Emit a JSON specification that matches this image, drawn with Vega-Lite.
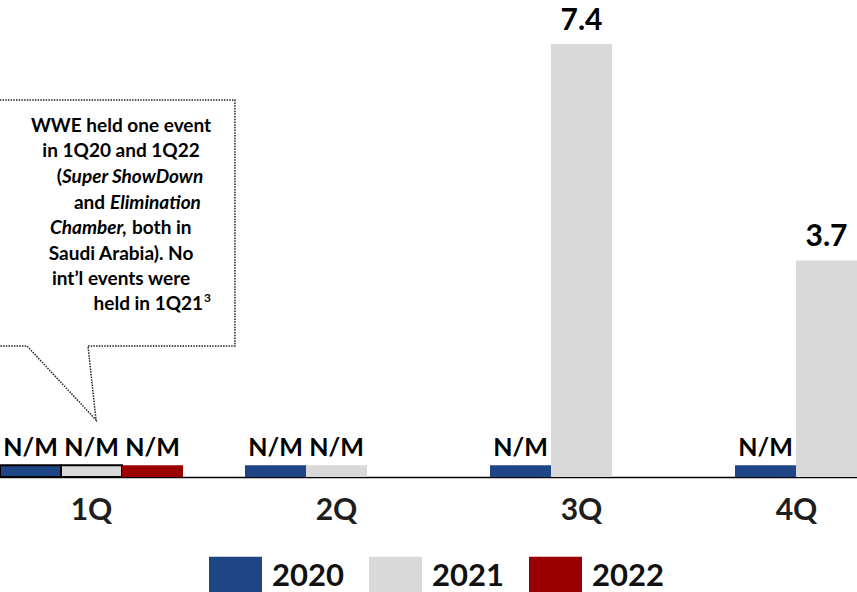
{
  "$schema": "https://vega.github.io/schema/vega-lite/v6.json",
  "width": 857,
  "height": 477,
  "autosize": {"type": "none"},
  "padding": {"top": 0, "left": 0, "right": 0, "bottom": 115},
  "background": "white",
  "config": {"view": {"stroke": null}, "font": "Lato"},
  "layer": [
    {
      "data": {"values": [
        {"quarter": "1Q", "year": "2020", "value": 0.2, "label": "N/M"},
        {"quarter": "1Q", "year": "2021", "value": 0.2, "label": "N/M"},
        {"quarter": "1Q", "year": "2022", "value": 0.2, "label": "N/M"},
        {"quarter": "2Q", "year": "2020", "value": 0.2, "label": "N/M"},
        {"quarter": "2Q", "year": "2021", "value": 0.2, "label": "N/M"},
        {"quarter": "3Q", "year": "2020", "value": 0.2, "label": "N/M"},
        {"quarter": "3Q", "year": "2021", "value": 7.4, "label": "7.4"},
        {"quarter": "4Q", "year": "2020", "value": 0.2, "label": "N/M"},
        {"quarter": "4Q", "year": "2021", "value": 3.7, "label": "3.7"}
      ]},
      "encoding": {
        "x": {
          "field": "quarter", "type": "nominal", "sort": ["1Q", "2Q", "3Q", "4Q"],
          "scale": {"type": "band", "domain": ["1Q", "2Q", "3Q", "4Q"], "range": [0, 918], "paddingInner": 0.253, "paddingOuter": 0},
          "axis": {
            "title": null, "ticks": false, "domainColor": "#000", "domainWidth": 1.5,
            "labelFontSize": 30, "labelFont": "Lato", "labelFontWeight": "bold", "labelColor": "#1e1e1e",
            "labelPadding": 18, "labelAngle": 0,
            "labelOffset": {"expr": "datum.value === '4Q' ? -30 : 0"}
          }
        },
        "xOffset": {"field": "year", "type": "nominal", "scale": {"domain": ["2020", "2021", "2022"], "paddingInner": 0, "paddingOuter": 0}},
        "y": {"field": "value", "type": "quantitative", "scale": {"domain": [0, 8.15], "nice": false, "zero": true}, "axis": null}
      },
      "layer": [
        {
          "mark": {"type": "bar", "stroke": "#000"},
          "encoding": {
            "color": {
              "field": "year", "type": "nominal",
              "scale": {"domain": ["2020", "2021", "2022"], "range": ["#1E4687", "#D9D9D9", "#9B0000"]},
              "legend": {
                "orient": "none", "legendX": 209, "legendY": 550, "direction": "horizontal", "title": null,
                "symbolType": "M-1,-0.755H1V0.755H-1Z", "symbolSize": 2809, "symbolStrokeWidth": 0, "symbolOpacity": 1,
                "labelFontSize": 31, "labelFont": "Lato", "labelFontWeight": "bold", "labelColor": "#111",
                "columnPadding": 25, "labelOffset": 10
              }
            },
            "strokeWidth": {"condition": {"test": "datum.quarter === '1Q' && datum.year !== '2022'", "value": 2}, "value": 0}
          }
        },
        {
          "transform": [{"filter": "datum.label === 'N/M'"}],
          "mark": {"type": "text", "baseline": "alphabetic", "dy": -9, "fontSize": 25, "fontWeight": "bold", "font": "Lato", "color": "#000"},
          "encoding": {"text": {"field": "label"}}
        },
        {
          "transform": [{"filter": "datum.label !== 'N/M'"}],
          "mark": {"type": "text", "baseline": "alphabetic", "dy": -14, "fontSize": 30, "fontWeight": "bold", "font": "Lato", "color": "#000"},
          "encoding": {"text": {"field": "label"}}
        }
      ]
    },
    {
      "encoding": {
        "x": {"field": "ax", "type": "quantitative", "scale": {"domain": [0, 4], "range": [0, 980], "nice": false, "zero": false}, "axis": null},
        "y": {"field": "ay", "type": "quantitative", "scale": {"domain": [0, 8.15], "nice": false, "zero": true}, "axis": null}
      },
      "layer": [
        {
          "data": {"values": [
            {"ax": -0.1, "ay": 6.44, "o": 1},
            {"ax": 0.959, "ay": 6.44, "o": 2},
            {"ax": 0.959, "ay": 2.24, "o": 3},
            {"ax": 0.359, "ay": 2.24, "o": 4},
            {"ax": 0.392, "ay": 0.974, "o": 5},
            {"ax": 0.110, "ay": 2.24, "o": 6},
            {"ax": -0.1, "ay": 2.24, "o": 7}
          ]},
          "mark": {"type": "line", "color": "#222", "strokeWidth": 1.5, "strokeDash": [1.5, 1.2]},
          "encoding": {"order": {"field": "o", "type": "quantitative"}}
        },
        {
          "data": {"values": [
            {"ax": 0.494, "ay": 5.894, "t": "WWE held one event"},
            {"ax": 0.494, "ay": 5.459, "t": "in 1Q20 and 1Q22"},
            {"ax": 0.494, "ay": 3.716, "t": "Saudi Arabia). No"},
            {"ax": 0.494, "ay": 3.280, "t": "int’l events were"}
          ]},
          "mark": {"type": "text", "align": "center", "baseline": "alphabetic", "fontSize": 19, "fontWeight": "bold", "font": "Lato", "color": "#000"},
          "encoding": {"text": {"field": "t"}}
        },
        {
          "data": {"values": [
            {"ax": 0.253, "ay": 5.023, "t": "("},
            {"ax": 0.429, "ay": 4.587, "t": "and"},
            {"ax": 0.829, "ay": 2.845, "t": "held in 1Q21"}
          ]},
          "mark": {"type": "text", "align": "right", "baseline": "alphabetic", "fontSize": 19, "fontWeight": "bold", "font": "Lato", "color": "#000"},
          "encoding": {"text": {"field": "t"}}
        },
        {
          "data": {"values": [
            {"ax": 0.539, "ay": 4.152, "t": "both in"}
          ]},
          "mark": {"type": "text", "align": "left", "baseline": "alphabetic", "fontSize": 19, "fontWeight": "bold", "font": "Lato", "color": "#000"},
          "encoding": {"text": {"field": "t"}}
        },
        {
          "data": {"values": [
            {"ax": 0.253, "ay": 5.023, "t": "Super ShowDown"},
            {"ax": 0.449, "ay": 4.587, "t": "Elimination"}
          ]},
          "mark": {"type": "text", "align": "left", "baseline": "alphabetic", "fontSize": 19, "fontWeight": "bold", "fontStyle": "italic", "font": "Lato", "color": "#000"},
          "encoding": {"text": {"field": "t"}}
        },
        {
          "data": {"values": [
            {"ax": 0.518, "ay": 4.152, "t": "Chamber,"}
          ]},
          "mark": {"type": "text", "align": "right", "baseline": "alphabetic", "fontSize": 19, "fontWeight": "bold", "fontStyle": "italic", "font": "Lato", "color": "#000"},
          "encoding": {"text": {"field": "t"}}
        },
        {
          "data": {"values": [
            {"ax": 0.833, "ay": 2.99, "t": "3"}
          ]},
          "mark": {"type": "text", "align": "left", "baseline": "alphabetic", "fontSize": 12, "fontWeight": "bold", "font": "Lato", "color": "#000"},
          "encoding": {"text": {"field": "t"}}
        }
      ]
    }
  ],
  "resolve": {"scale": {"x": "independent"}, "axis": {"x": "independent"}}
}
